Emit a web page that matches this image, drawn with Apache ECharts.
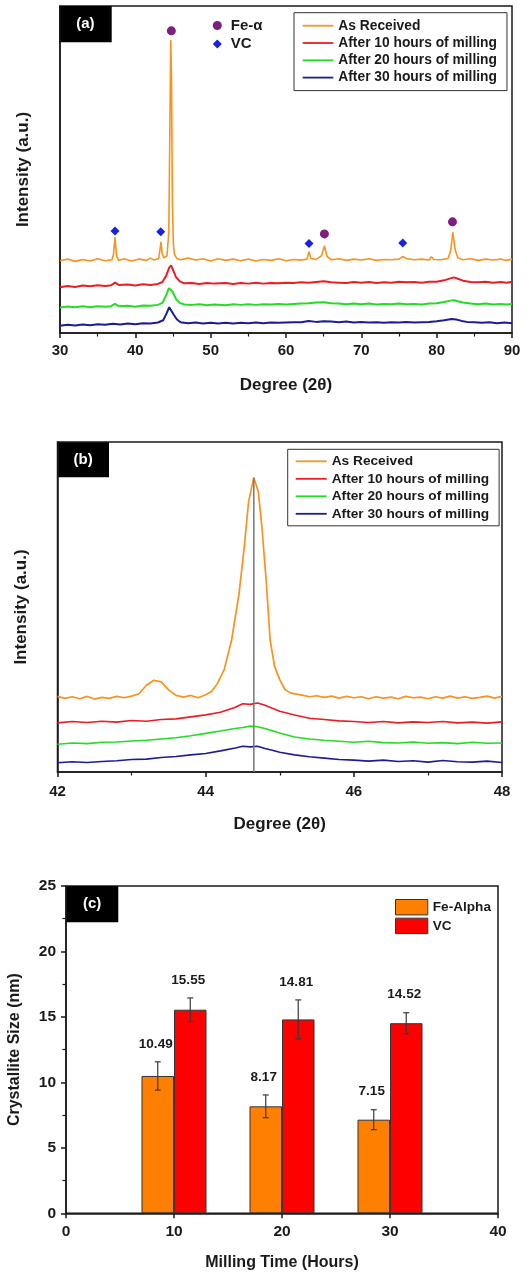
<!DOCTYPE html>
<html>
<head>
<meta charset="utf-8">
<script src="https://cdn.jsdelivr.net/npm/echarts@6/dist/echarts.min.js"></script>
<style>
    html, body { margin: 0; padding: 0; background: #fff; }
    #chart { width: 529px; height: 1272px; }
</style>
</head>
<body>
<div id="chart"></div>
<script>
// ---- panel (a): full XRD scans, intensity in arbitrary units (0-100 of the frame)
const asReceivedA = [[30,22.1],[31,22.6],[32,21.9],[33,22.5],[34,22.0],[35,22.7],[36,22.1],[36.9,22.4],[37.1,24.0],[37.3,29.3],[37.5,23.6],[37.8,22.2],[38.5,22.7],[39.5,22.0],[40.5,22.6],[41.5,22.2],[42,22.9],[42.5,22.3],[43.1,22.8],[43.25,25.0],[43.4,27.9],[43.55,24.4],[43.8,23.0],[44.2,23.6],[44.45,31],[44.58,62],[44.7,89.6],[44.8,78],[44.92,40],[45.05,27],[45.2,24],[45.5,22.8],[46,22.4],[47,22.9],[48,22.3],[49,22.7],[50,22.0],[51,22.7],[52,22.2],[53,22.6],[54,22.1],[55,22.6],[56,22.0],[57,22.5],[58,22.2],[59,22.7],[60,22.1],[61,22.5],[62,22.3],[62.8,22.6],[63.05,24.9],[63.3,22.8],[64,22.5],[64.7,23.6],[65.1,26.6],[65.45,23.4],[66,22.4],[67,22.7],[68,22.2],[69,22.6],[70,22.3],[71,22.7],[72,22.2],[73,22.5],[74,22.4],[75,22.6],[75.5,23.4],[76,22.8],[77,22.4],[78,22.6],[79,22.3],[79.3,23.3],[79.6,22.5],[80.5,22.4],[81.5,22.8],[81.85,25.0],[82.15,30.8],[82.45,25.5],[82.8,23.0],[83.5,22.4],[84.5,22.7],[85.5,22.2],[86.5,22.6],[87.5,22.3],[88.5,22.6],[89.2,22.2],[90,22.6]];
const tenHoursA = [[30,14.0],[31,14.4],[32,14.1],[33,14.5],[34,14.3],[35,14.6],[36,14.4],[36.8,14.6],[37.3,15.4],[37.8,14.7],[39,14.8],[40,14.5],[41,14.9],[42,14.7],[43,15.0],[43.6,15.6],[44.1,17.6],[44.5,20.0],[44.75,20.7],[45.0,19.3],[45.4,17.1],[45.9,15.8],[46.5,15.2],[47.5,15.3],[48.5,15.0],[49.5,15.3],[50.5,15.1],[52,15.3],[53,15.0],[54,15.3],[55,15.1],[56,15.4],[57,15.1],[58,15.3],[59,15.2],[60,15.4],[61,15.3],[62,15.5],[63,15.4],[64,15.6],[65,15.8],[66,15.5],[67,15.4],[68,15.3],[69,15.6],[70,15.4],[71,15.6],[72,15.3],[73,15.5],[74,15.4],[75,15.7],[76,15.5],[77,15.6],[78,15.4],[79,15.7],[80,15.7],[81,16.1],[81.8,16.7],[82.3,17.0],[82.8,16.6],[83.5,16.0],[84.5,15.6],[85.5,15.5],[86.5,15.7],[87.5,15.4],[88.5,15.6],[89.3,15.4],[90,15.7]];
const twentyHoursA = [[30,7.8],[31,8.1],[32,7.9],[33,8.2],[34,7.9],[35,8.2],[36,8.0],[36.8,8.2],[37.3,8.9],[37.8,8.2],[39,8.3],[40,8.0],[41,8.4],[42,8.3],[43,8.6],[43.6,9.2],[44.1,11.6],[44.45,13.7],[44.65,14.0],[44.95,12.6],[45.4,10.4],[45.9,9.2],[46.5,8.7],[47.5,8.6],[48.5,8.8],[49.5,8.5],[50.5,8.7],[52,8.5],[53,8.8],[54,8.6],[55,8.8],[56,8.6],[57,8.8],[58,8.7],[59,8.9],[60,8.7],[61,8.9],[62,9.0],[63,9.1],[64,9.3],[65,9.4],[66,9.1],[67,9.0],[68,8.8],[69,9.0],[70,8.8],[71,9.0],[72,8.7],[73,8.9],[74,8.8],[75,9.0],[76,8.8],[77,8.9],[78,8.7],[79,9.0],[80,9.1],[81,9.5],[81.8,9.9],[82.3,10.0],[82.8,9.7],[83.5,9.3],[84.5,9.0],[85.5,8.8],[86.5,9.0],[87.5,8.7],[88.5,8.9],[89.3,8.7],[90,8.9]];
const thirtyHoursA = [[30,2.2],[31,2.5],[32,2.3],[33,2.6],[34,2.4],[35,2.7],[36,2.5],[37,2.8],[38,2.6],[39,2.9],[40,2.7],[41,3.0],[42,2.9],[43,3.2],[43.7,3.9],[44.15,6.0],[44.5,7.9],[44.75,7.4],[45.1,5.6],[45.5,4.2],[46,3.3],[47,3.0],[48,3.2],[49,2.9],[50,3.1],[51,2.9],[52,3.1],[53,2.9],[54,3.1],[55,3.0],[56,3.2],[57,3.0],[58,3.2],[59,3.1],[60,3.2],[61,3.3],[62,3.3],[63,3.7],[64,3.4],[65,3.6],[66,3.5],[67,3.3],[68,3.5],[69,3.2],[70,3.4],[71,3.2],[72,3.3],[73,3.1],[74,3.3],[75,3.2],[76,3.4],[77,3.2],[78,3.3],[79,3.4],[80,3.6],[81,3.9],[82,4.3],[82.6,4.1],[83.3,3.7],[84,3.4],[85,3.3],[86,3.1],[87,3.3],[88,3.0],[89,3.2],[90,3.0]];
const feAlphaPeaks = [[44.78,92.4],[65.1,30.3],[82.1,34.0]];
const vcPeaks = [[37.3,31.2],[43.37,31.0],[63.05,27.4],[75.5,27.5]];

// ---- panel (b): detail around the main Fe-alpha reflection
const asReceivedB = [[42.0,22.9],[42.1,22.3],[42.2,22.8],[42.3,22.2],[42.4,22.9],[42.5,22.1],[42.6,22.6],[42.7,22.3],[42.8,22.9],[42.9,22.5],[43.0,23.0],[43.1,23.7],[43.2,26.3],[43.3,27.8],[43.4,27.3],[43.5,24.9],[43.6,23.2],[43.7,22.7],[43.8,23.2],[43.9,22.5],[44.0,23.4],[44.08,24.4],[44.15,26.5],[44.25,31],[44.35,40],[44.45,54],[44.52,68],[44.58,82],[44.65,89.2],[44.71,85],[44.76,74],[44.82,57],[44.87,40],[44.93,32],[45.0,28],[45.07,25],[45.15,23.9],[45.3,23.3],[45.4,22.8],[45.5,23.1],[45.6,22.6],[45.7,23.0],[45.8,22.4],[45.9,22.9],[46.0,22.5],[46.1,22.8],[46.2,22.2],[46.3,22.8],[46.4,22.4],[46.5,22.7],[46.6,22.2],[46.7,22.9],[46.8,22.5],[46.9,22.7],[47.0,22.2],[47.1,22.8],[47.2,22.4],[47.3,23.0],[47.4,22.4],[47.5,22.8],[47.6,22.3],[47.7,22.6],[47.8,23.0],[47.9,22.4],[48.0,22.9]];
const tenHoursB = [[42.0,14.9],[42.2,15.3],[42.4,15.0],[42.6,15.4],[42.8,15.1],[43.0,15.6],[43.2,15.4],[43.4,15.9],[43.6,16.1],[43.8,16.7],[44.0,17.3],[44.2,18.1],[44.4,19.6],[44.5,20.7],[44.6,20.5],[44.7,20.9],[44.8,20.2],[44.9,19.3],[45.0,18.4],[45.2,17.3],[45.4,16.3],[45.6,15.9],[45.8,15.5],[46.0,15.3],[46.2,15.0],[46.4,15.3],[46.6,14.9],[46.8,15.2],[47.0,15.0],[47.2,15.3],[47.4,14.9],[47.6,15.1],[47.8,14.8],[48.0,15.2]];
const twentyHoursB = [[42.0,8.4],[42.2,8.8],[42.4,8.6],[42.6,9.0],[42.8,9.1],[43.0,9.4],[43.2,9.6],[43.4,10.0],[43.6,10.4],[43.8,11.0],[44.0,11.7],[44.2,12.4],[44.4,13.2],[44.5,13.5],[44.6,13.9],[44.7,13.7],[44.8,13.2],[44.9,12.5],[45.0,11.8],[45.2,10.6],[45.4,10.0],[45.6,9.6],[45.8,9.3],[46.0,9.0],[46.2,9.3],[46.4,8.9],[46.6,8.8],[46.8,9.1],[47.0,8.7],[47.2,8.9],[47.4,8.6],[47.6,9.0],[47.8,8.7],[48.0,8.8]];
const thirtyHoursB = [[42.0,2.8],[42.2,3.1],[42.4,2.9],[42.6,3.2],[42.8,3.4],[43.0,3.8],[43.2,3.9],[43.4,4.4],[43.6,4.7],[43.8,5.2],[44.0,5.6],[44.2,6.4],[44.4,7.3],[44.5,7.8],[44.6,7.6],[44.7,7.8],[44.8,7.1],[44.9,6.6],[45.0,6.0],[45.2,5.2],[45.4,4.6],[45.6,4.2],[45.8,3.8],[46.0,3.6],[46.2,3.3],[46.4,3.6],[46.6,3.2],[46.8,3.4],[47.0,3.0],[47.2,3.5],[47.4,3.1],[47.6,3.0],[47.8,3.3],[48.0,2.9]];
const peakCentre = 44.65;
const peakTop = 89.2;

// ---- panel (c): crystallite size vs milling time
const millingHours = [10, 20, 30];
const feAlphaSize = [10.49, 8.17, 7.15];
const feAlphaErr = [1.08, 0.87, 0.76];
const vcSize = [15.55, 14.81, 14.52];
const vcErr = [0.9, 1.49, 0.8];

const traceNames = ['As Received', 'After 10 hours of milling', 'After 20 hours of milling', 'After 30 hours of milling'];
const traceColors = ['#f7931e', '#ec1c24', '#22dd22', '#1c1c96'];

const FONT = "'Liberation Sans', Arial, sans-serif";
const TXT = '#1a1a1a';
const BAR_W = 32.5;

const myChart = echarts.init(document.getElementById('chart'), null, { renderer: 'canvas' });

const boldText = (size) => ({ fontFamily: FONT, fontWeight: 'bold', fontSize: size, color: TXT });

const gridBase = { show: true, borderColor: TXT, borderWidth: 1.5, backgroundColor: 'transparent', outerBoundsMode: 'none', containLabel: false };

const xAxisBase = (min, max, interval, name, nameGap) => ({
    type: 'value', min: min, max: max, interval: interval,
    name: name, nameLocation: 'middle', nameGap: nameGap,
    nameTextStyle: boldText(17),
    axisLine: { show: true, onZero: false, lineStyle: { color: TXT, width: 1.5 } },
    axisTick: { show: true, inside: false, length: 5, lineStyle: { color: TXT, width: 1.5 } },
    minorTick: { show: true, splitNumber: 2, length: 3.5, lineStyle: { color: TXT, width: 1.2 } },
    axisLabel: Object.assign({ margin: 10 }, boldText(15)),
    splitLine: { show: false }
});

const intensityAxis = (gridIndex) => ({
    type: 'value', gridIndex: gridIndex, min: 0, max: 100,
    name: 'Intensity (a.u.)', nameLocation: 'middle', nameGap: 28, nameRotate: 90,
    nameTextStyle: boldText(17),
    axisLine: { show: true, onZero: false, lineStyle: { color: TXT, width: 1.5 } },
    axisTick: { show: false }, axisLabel: { show: false }, splitLine: { show: false }
});

function lineSeries(idx, data, axisIndex, width) {
    return {
        name: traceNames[idx], type: 'line', xAxisIndex: axisIndex, yAxisIndex: axisIndex,
        data: data, symbol: 'none', animation: false,
        lineStyle: { color: traceColors[idx], width: width },
        itemStyle: { color: traceColors[idx] }
    };
}

// error bars plus value label, drawn over each bar
function errorBarItem(side) {
    return function (params, api) {
        const x = api.value(0);
        const hi = api.coord([x, api.value(2)]);
        const lo = api.coord([x, api.value(1)]);
        const cx = hi[0] + side * BAR_W / 2;
        const style = { stroke: '#3a3a3a', lineWidth: 1.2 };
        return {
            type: 'group',
            children: [
                { type: 'line', shape: { x1: cx, y1: hi[1], x2: cx, y2: lo[1] }, style: style },
                { type: 'line', shape: { x1: cx - 3, y1: hi[1], x2: cx + 3, y2: hi[1] }, style: style },
                { type: 'line', shape: { x1: cx - 3, y1: lo[1], x2: cx + 3, y2: lo[1] }, style: style },
                {
                    type: 'text', x: cx - 2, y: hi[1] - 18,
                    style: { text: api.value(3).toFixed(2), fill: TXT, fontFamily: FONT, fontWeight: 'bold', fontSize: 13.5, align: 'center', verticalAlign: 'middle' }
                }
            ]
        };
    };
}

const panelLabel = (x, y, w, h, text) => ({
    type: 'group', left: x, top: y,
    children: [
        { type: 'rect', shape: { x: 0, y: 0, width: w, height: h }, style: { fill: '#000' } },
        { type: 'text', x: w / 2, y: h / 2, style: { text: text, fill: '#fff', fontFamily: FONT, fontWeight: 'bold', fontSize: 15, align: 'center', verticalAlign: 'middle' } }
    ]
});

const traceLegendData = traceNames.map((n, i) => ({ name: n, icon: 'rect', itemStyle: { color: traceColors[i], opacity: 1 } }));

const option = {
    backgroundColor: '#fff',
    animation: false,
    grid: [
        Object.assign({ left: 60, right: 17, top: 6, height: 327 }, gridBase),
        Object.assign({ left: 57.5, right: 27, top: 442, height: 330 }, gridBase),
        Object.assign({ left: 66, right: 31, top: 886, height: 327.3 }, gridBase)
    ],
    xAxis: [
        Object.assign(xAxisBase(30, 90, 10, 'Degree (2θ)', 44), { gridIndex: 0 }),
        Object.assign(xAxisBase(42, 48, 2, 'Degree (2θ)', 44), { gridIndex: 1, axisLabel: Object.assign({ margin: 12 }, boldText(15)) }),
        Object.assign(xAxisBase(0, 40, 10, 'Milling Time (Hours)', 41), {
            gridIndex: 2, minorTick: { show: false },
            nameTextStyle: boldText(16),
            axisLabel: Object.assign({ margin: 10 }, boldText(15.5))
        })
    ],
    yAxis: [
        intensityAxis(0),
        intensityAxis(1),
        {
            type: 'value', gridIndex: 2, min: 0, max: 25, interval: 5,
            name: 'Crystallite Size (nm)', nameLocation: 'middle', nameGap: 43, nameRotate: 90,
            nameTextStyle: boldText(16),
            axisLine: { show: true, onZero: false, lineStyle: { color: TXT, width: 1.5 } },
            axisTick: { show: true, length: 5, lineStyle: { color: TXT, width: 1.5 } },
            minorTick: { show: true, splitNumber: 2, length: 3.5, lineStyle: { color: TXT, width: 1.2 } },
            axisLabel: Object.assign({ margin: 10 }, boldText(15.5)),
            splitLine: { show: false }
        }
    ],
    legend: [
        {
            left: 294, top: 12.7, orient: 'vertical', selectedMode: false,
            padding: [6, 10, 6, 8.7], itemWidth: 30.6, itemHeight: 1.8, itemGap: 3.3,
            borderColor: '#333', borderWidth: 1, backgroundColor: '#fff',
            textStyle: Object.assign({ lineHeight: 14 }, boldText(13.8)),
            data: traceLegendData
        },
        {
            left: 287.7, top: 449.3, orient: 'vertical', selectedMode: false,
            padding: [5, 10, 5, 8], itemWidth: 31, itemHeight: 1.8, itemGap: 3.5,
            borderColor: '#333', borderWidth: 1, backgroundColor: '#fff',
            textStyle: Object.assign({ lineHeight: 14 }, boldText(13.7)),
            data: traceLegendData
        },
        {
            left: 212.8, top: 17, orient: 'vertical', selectedMode: false,
            itemWidth: 9, itemHeight: 9, itemGap: 1.6, padding: 0,
            textStyle: Object.assign({ lineHeight: 17, padding: [0, 0, 0, 4] }, boldText(15)),
            data: [
                { name: 'Fe-α', icon: 'circle', itemStyle: { color: '#7e1e80', opacity: 1 } },
                { name: 'VC', icon: 'diamond', itemStyle: { color: '#1a22e0', opacity: 1 } }
            ]
        },
        {
            left: 395, top: 899, orient: 'vertical', selectedMode: false,
            itemWidth: 32.3, itemHeight: 15.4, itemGap: 2.3, padding: 0,
            textStyle: Object.assign({ lineHeight: 15.4 }, boldText(13.6)),
            data: [
                { name: 'Fe-Alpha', icon: 'rect', itemStyle: { color: '#ff8000', borderColor: '#333', borderWidth: 1, opacity: 1 } },
                { name: 'VC', icon: 'rect', itemStyle: { color: '#ff0000', borderColor: '#333', borderWidth: 1, opacity: 1 } }
            ]
        }
    ],
    graphic: [
        panelLabel(59, 6, 52.7, 36.3, '(a)'),
        panelLabel(57.3, 442.3, 51.7, 35, '(b)'),
        panelLabel(66, 886, 52.3, 36.3, '(c)')
    ],
    series: [
        lineSeries(3, thirtyHoursA, 0, 2),
        lineSeries(2, twentyHoursA, 0, 2),
        lineSeries(1, tenHoursA, 0, 2),
        lineSeries(0, asReceivedA, 0, 1.6),
        {
            name: 'Fe-α', type: 'scatter', xAxisIndex: 0, yAxisIndex: 0, data: feAlphaPeaks,
            symbol: 'circle', symbolSize: 9, itemStyle: { color: '#7e1e80', opacity: 1 }
        },
        {
            name: 'VC', type: 'scatter', xAxisIndex: 0, yAxisIndex: 0, data: vcPeaks,
            symbol: 'diamond', symbolSize: 9, itemStyle: { color: '#1a22e0', opacity: 1 }
        },
        lineSeries(3, thirtyHoursB, 1, 1.6),
        lineSeries(2, twentyHoursB, 1, 1.6),
        lineSeries(1, tenHoursB, 1, 1.6),
        lineSeries(0, asReceivedB, 1, 1.7),
        {
            name: 'peak position', type: 'line', xAxisIndex: 1, yAxisIndex: 1,
            data: [[peakCentre, 0], [peakCentre, peakTop]], symbol: 'none',
            lineStyle: { color: '#777', width: 1.5 }, z: 3
        },
        {
            name: 'Fe-Alpha', type: 'bar', xAxisIndex: 2, yAxisIndex: 2,
            data: millingHours.map((h, i) => [h, feAlphaSize[i]]),
            barWidth: BAR_W, barGap: '0%',
            itemStyle: { color: '#ff8000', borderColor: '#333', borderWidth: 1 }
        },
        {
            name: 'VC', type: 'bar', xAxisIndex: 2, yAxisIndex: 2,
            data: millingHours.map((h, i) => [h, vcSize[i]]),
            barWidth: BAR_W, barGap: '0%',
            itemStyle: { color: '#ff0000', borderColor: '#333', borderWidth: 1 }
        },
        {
            name: 'Fe-Alpha error', type: 'custom', xAxisIndex: 2, yAxisIndex: 2, z: 5,
            renderItem: errorBarItem(-1),
            data: millingHours.map((h, i) => [h, feAlphaSize[i] - feAlphaErr[i], feAlphaSize[i] + feAlphaErr[i], feAlphaSize[i]])
        },
        {
            name: 'VC error', type: 'custom', xAxisIndex: 2, yAxisIndex: 2, z: 5,
            renderItem: errorBarItem(1),
            data: millingHours.map((h, i) => [h, vcSize[i] - vcErr[i], vcSize[i] + vcErr[i], vcSize[i]])
        }
    ]
};

myChart.setOption(option);
</script>
</body>
</html>
